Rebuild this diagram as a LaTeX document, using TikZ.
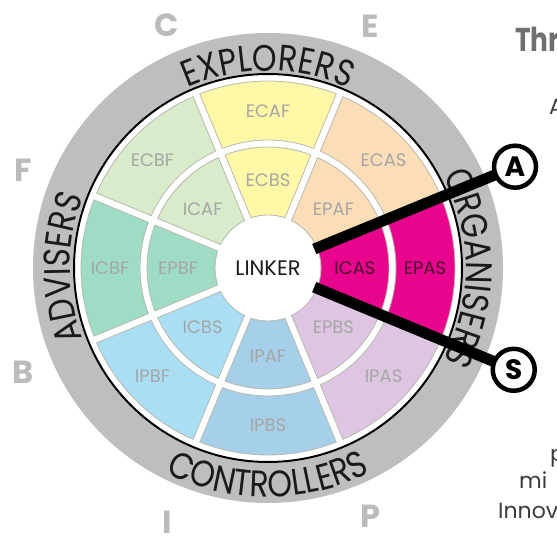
\documentclass[tikz,border=0pt]{standalone}
\usepackage{fontspec}
\setmainfont{Poppins}
\usetikzlibrary{decorations.text}

\definecolor{ringgrey}{HTML}{BDBEC0}
\definecolor{edgegrey}{HTML}{B9B9AE}
\definecolor{lblgrey}{HTML}{A6A6A6}
\definecolor{lettergrey}{HTML}{BBBBBB}
\definecolor{ink}{HTML}{1A1A1A}
\definecolor{cyellow}{HTML}{FFF8A6}
\definecolor{cpeach}{HTML}{FBDDB8}
\definecolor{cmagenta}{HTML}{E8048C}
\definecolor{clilac}{HTML}{DEC6E2}
\definecolor{cblue}{HTML}{A6CFEA}
\definecolor{ccyan}{HTML}{A9DEF4}
\definecolor{cteal}{HTML}{9FDCC6}
\definecolor{cgreen}{HTML}{D8EBCB}
\definecolor{darklbl}{HTML}{4A0C30}
\definecolor{headgrey}{HTML}{6F6F6F}
\definecolor{bodygrey}{HTML}{3C3C3C}

% one wheel cell: centre angle, inner radius, outer radius, fill
\newcommand\wheelcell[4]{%
  \pgfmathsetmacro\aLo{#1-22.5}%
  \pgfmathsetmacro\aHi{#1+22.5}%
  \pgfmathsetmacro\dIn{asin(3.6/#2)}%
  \pgfmathsetmacro\dOut{asin(3.6/#3)}%
  \filldraw[cell, fill=#4]
    (\aLo+\dIn:#2) arc[start angle=\aLo+\dIn, end angle=\aHi-\dIn, radius=#2pt]
    -- (\aHi-\dOut:#3) arc[start angle=\aHi-\dOut, end angle=\aLo+\dOut, radius=#3pt]
    -- cycle;%
}

\newfontfamily\ringfont[FakeStretch=0.85]{Poppins}
\newfontfamily\headfont[FakeStretch=0.8]{Poppins}

\tikzset{
  cell/.style={draw=edgegrey, line width=0.8pt},
  lbl/.style={text=lblgrey, font=\fontsize{18}{18}\selectfont, inner sep=0pt},
  hotlbl/.style={lbl, text=darklbl},
  corner/.style={text=lettergrey, font=\fontsize{32}{32}\selectfont\bfseries, inner sep=0pt},
  bar/.style={line width=11pt, black},
  marker/.style={circle, draw=black, line width=4.5pt, fill=white, minimum size=42pt,
    inner sep=0pt, font=\fontsize{28}{28}\selectfont\bfseries},
  ringtext/.style={decorate, decoration={text along path, text align=center,
    text={|\ringfont\fontsize{37}{37}\selectfont\color{ink}|#1}}},
  body/.style={text=bodygrey, font=\fontsize{22}{22}\selectfont, inner sep=0pt, anchor=base west},
}

\begin{document}
\begin{tikzpicture}[x=1pt, y=1pt]
\useasboundingbox (0,0) rectangle (557,536);
\clip (0,0) rectangle (557,536);

\begin{scope}[shift={(268,268)}]
  % outer grey band with its black inner rim
  \fill[ringgrey, even odd rule] (0,0) circle[radius=235pt] (0,0) circle[radius=195pt];
  \draw[black, line width=2pt] (0,0) circle[radius=194pt];

  % outer ring of cells
  \wheelcell{90}{128}{187}{cyellow}
  \wheelcell{45}{128}{187}{cpeach}
  \wheelcell{0}{128}{187}{cmagenta}
  \wheelcell{-45}{128}{187}{clilac}
  \wheelcell{-90}{128}{187}{cblue}
  \wheelcell{-135}{128}{187}{ccyan}
  \wheelcell{180}{128}{187}{cteal}
  \wheelcell{135}{128}{187}{cgreen}
  % inner ring of cells
  \wheelcell{90}{53}{121}{cyellow}
  \wheelcell{45}{53}{121}{cpeach}
  \wheelcell{0}{53}{121}{cmagenta}
  \wheelcell{-45}{53}{121}{clilac}
  \wheelcell{-90}{53}{121}{cblue}
  \wheelcell{-135}{53}{121}{ccyan}
  \wheelcell{180}{53}{121}{cteal}
  \wheelcell{135}{53}{121}{cgreen}

  % outer ring labels
  \node[lbl] (ecaf) at (90:157) {ECAF};
  \node[lbl] (ecas) at (43:158) {ECAS};
  \node[hotlbl] (epas) at (0:157) {EPAS};
  \node[lbl] (ipas) at (-43:158) {IPAS};
  \node[lbl] (ipbs) at (-90:157) {IPBS};
  \node[lbl] (ipbf) at (-137:158) {IPBF};
  \node[lbl] (icbf) at (180:158) {ICBF};
  \node[lbl] (ecbf) at (137:158) {ECBF};
  % inner ring labels
  \node[lbl] (ecbs) at (90:88) {ECBS};
  \node[lbl] (epaf) at (42:88) {EPAF};
  \node[hotlbl] (icas) at (0:87) {ICAS};
  \node[lbl] (epbs) at (-42:88) {EPBS};
  \node[lbl] (ipaf) at (-90:88) {IPAF};
  \node[lbl] (icbs) at (-138:88) {ICBS};
  \node[lbl] (epbf) at (180:90) {EPBF};
  \node[lbl] (icaf) at (138:88) {ICAF};

  \node[text=ink, font=\fontsize{21}{21}\selectfont, inner sep=0pt] (linker) at (0,0) {LINKER};

  % role names along the grey band
  \path[ringtext=EXPLORERS] (150:197) arc[start angle=150, end angle=30, radius=197pt];
  \path[ringtext=ORGANISERS] (60:198) arc[start angle=60, end angle=-60, radius=198pt];
  \path[ringtext=ADVISERS] (240:198) arc[start angle=240, end angle=120, radius=198pt];
  \path[ringtext=CONTROLLERS] (200:229) arc[start angle=200, end angle=340, radius=229pt];

  % spokes out to the two markers
  \coordinate (hubA) at (22.3:50);
  \coordinate (hubS) at (-22.5:50);
  \coordinate (A) at (22.3:267);
  \coordinate (S) at (-22.5:266);
  \draw[bar] (hubA) -- (A);
  \draw[bar] (hubS) -- (S);
  \node[marker] (markA) at (A) {A};
  \node[marker] (markS) at (S) {S};
\end{scope}

% grey letters round the wheel
\node[corner] (lc) at (167,511) {C};
\node[corner] (le) at (370,510) {E};
\node[corner] (lf) at (23,366) {F};
\node[corner] (lb) at (23,164) {B};
\node[corner] (li) at (167,14) {I};
\node[corner] (lp) at (370,20) {P};

% text running off to the right
\node[text=headgrey, font=\headfont\fontsize{33}{33}\selectfont\bfseries, inner sep=0pt, anchor=base west] (head) at (515,484) {Thr};
\node[body] (ta) at (549,421) {A};
\node[body] (tp) at (550,75) {p};
\node[body] (tm) at (519,48) {mi};
\node[body] (tn) at (498,18) {Innov};
\end{tikzpicture}
\end{document}
